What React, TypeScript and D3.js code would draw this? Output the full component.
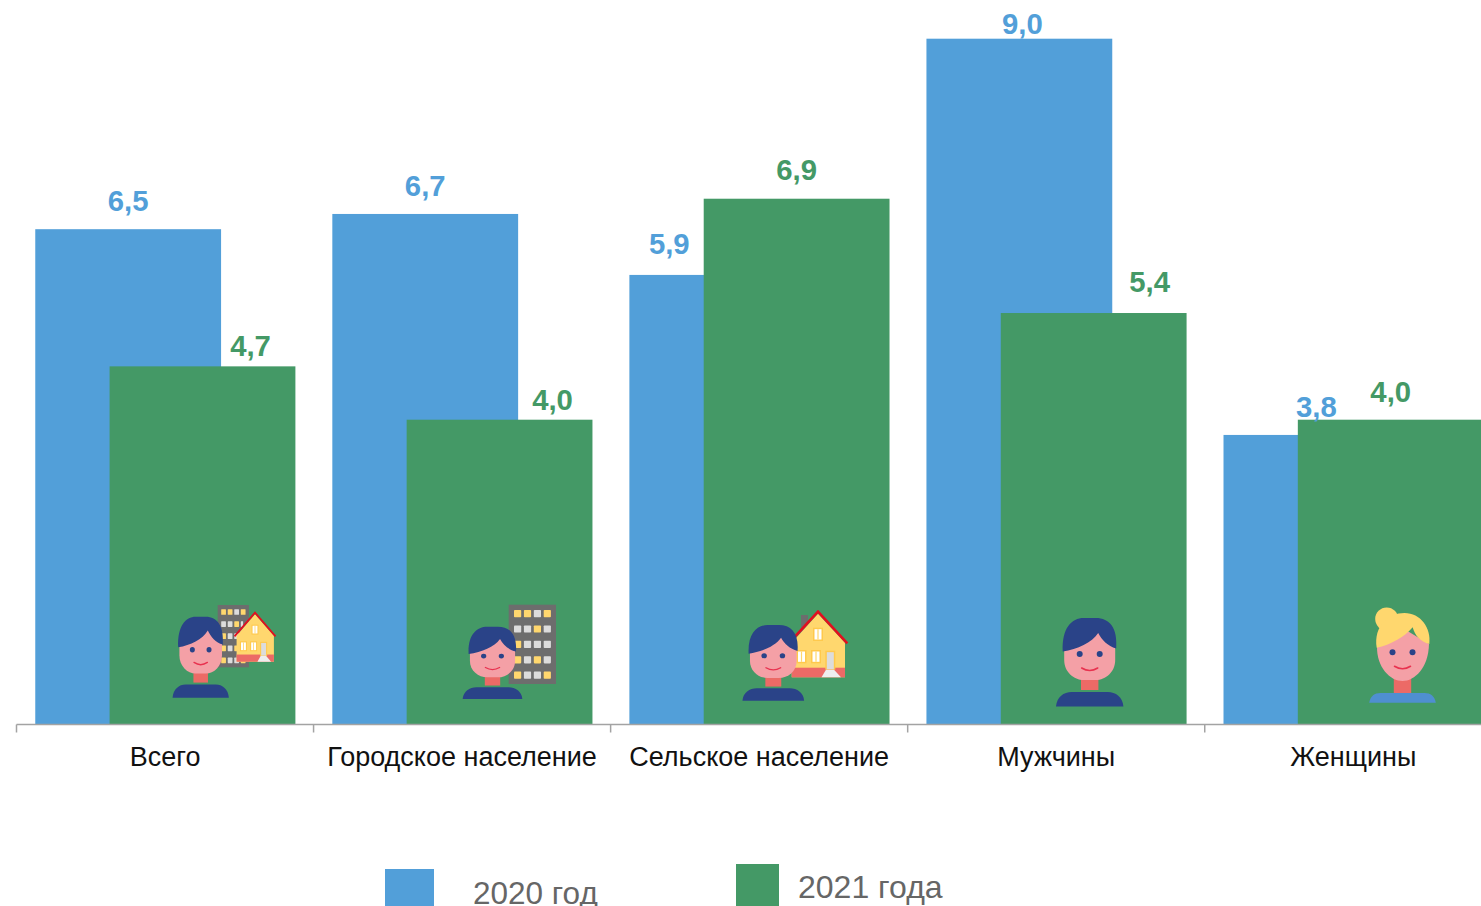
import React, { useEffect, useRef } from "react";
import * as d3 from "d3";

const categories = ["Всего", "Городское население", "Сельское население", "Мужчины", "Женщины"];
const values2020 = [6.5, 6.7, 5.9, 9.0, 3.8];
const values2021 = [4.7, 4.0, 6.9, 5.4, 4.0];
const seriesNames = ["2020 год", "2021 года"];

// hand placed labels, the original chart moved them off the bar centre
const shift2020 = [[0, 28], [0, 28], [-53, 31], [3, 15], [0, 28]];
const shift2021 = [[48, 20], [53, 20], [0, 29], [56, 31], [0, 28]];

const BLUE = "#529fd9";
const GREEN = "#449966";
const NAVY = "#2a4388";
const SKIN = "#f4a0a6";
const NECK = "#ec6a66";
const YELLOW = "#ffd76e";
const GREY = "#6d6d6d";
const PALE = "#dcdcdc";
const RED = "#e30e1e";

const towerWindows = [
  [YELLOW, YELLOW, PALE, YELLOW],
  [PALE, PALE, YELLOW, PALE],
  [YELLOW, PALE, PALE, PALE],
  [YELLOW, PALE, YELLOW, PALE],
  [YELLOW, PALE, PALE, YELLOW],
];

const Face = ({ cy = 0, lip = "#e8324f" }: { cy?: number; lip?: string }) => (
  <g transform={`translate(0,${cy})`}>
    <circle cx={-10} cy={36} r={3} fill={NAVY} />
    <circle cx={10} cy={36} r={3} fill={NAVY} />
    <path d="M-8,50 Q0,55 8,50" fill="none" stroke={lip} strokeWidth={1.6} strokeLinecap="round" />
  </g>
);

// boy icon, origin is top of the hair on the middle axis
const Boy = ({ x, y, sx, sy }: { x: number; y: number; sx: number; sy: number }) => (
  <g transform={`translate(${x},${y}) scale(${sx},${sy})`}>
    <rect x={-8.7} y={58} width={17.4} height={14} fill={NECK} />
    <path d="M-33.7,88.5 C-33,79 -26,74 -18,74 L18,74 C26,74 33,79 33.7,88.5 Z" fill={NAVY} />
    <path d="M-25.5,24 L-25.5,42 C-25.5,54 -16,62 -6,62 L6,62 C16,62 25.5,54 25.5,42 L25.5,20 L0,10 Z" fill={SKIN} />
    <Face />
    <path d="M-27,33.5 C-28,10 -18,0 -6,0 L6,0 C20,0 28,10 26.5,30.5 C18,28 12,22 8.5,15 C2,25 -12,31 -27,33.5 Z" fill={NAVY} />
  </g>
);

const Girl = ({ x, y }: { x: number; y: number }) => (
  <g transform={`translate(${x},${y})`}>
    <rect x={-8.7} y={70} width={17.4} height={19} fill={NECK} />
    <path d="M-33.3,94.7 C-32,88 -28,85 -22,85 L22,85 C28,85 32,88 33.3,94.7 Z" fill="#4f8fd0" />
    <path d="M-25.5,38 C-26,60 -12,73 0,73 C12,73 26,60 26.5,36 L0,20 Z" fill={SKIN} />
    <Face cy={8.3} />
    <circle cx={-15.8} cy={11} r={11.5} fill={YELLOW} />
    <path d="M-25.8,39.7 C-29,18 -14,5 2,5 C18,5 29,20 26.8,36 C18,34 12,27 10.2,19.3 C2,29 -12,37 -25.8,39.7 Z" fill={YELLOW} />
  </g>
);

const Tower = ({ x, y, sx, sy }: { x: number; y: number; sx: number; sy: number }) => (
  <g transform={`translate(${x},${y}) scale(${sx},${sy})`}>
    <rect width={47.3} height={79.3} fill={GREY} />
    {towerWindows.map((row, i) =>
      row.map((c, j) => <rect key={`${i}-${j}`} x={5.3 + j * 9.9} y={5.3 + i * 15.4} width={7.2} height={7.2} rx={0.8} fill={c} />)
    )}
  </g>
);

// origin is the roof apex
const House = ({ x, y, sx, sy }: { x: number; y: number; sx: number; sy: number }) => (
  <g transform={`translate(${x},${y}) scale(${sx},${sy})`}>
    <rect x={-17} y={3.3} width={7} height={17} fill={GREY} />
    <path d="M-26.3,31 L0,2 L27,31 L27,65.6 L-26.3,65.6 Z" fill={YELLOW} />
    <rect x={-26.3} y={56} width={53.3} height={9.6} fill={NECK} />
    <path d="M-29.3,31.7 L0,0 L29.3,31.7" fill="none" stroke={RED} strokeWidth={2.6} />
    {[[-5, 16], [-21.5, 38.3], [-7, 38.3]].map(([wx, wy], i) => (
      <g key={i}>
        <rect x={wx} y={wy} width={10} height={13.3} fill="#ffc94d" />
        <rect x={wx + 1.5} y={wy + 1.5} width={7} height={10.3} fill="#fff" />
        <rect x={wx + 4.4} y={wy + 1.5} width={1.2} height={10.3} fill={YELLOW} />
      </g>
    ))}
    <rect x={7.3} y={39} width={10} height={19} fill="#ffc94d" />
    <rect x={8.8} y={40.5} width={7} height={17} fill={PALE} />
    <path d="M8,58 L16,58 L23,65.6 L3.5,65.6 Z" fill="#eeeeee" />
  </g>
);

export default function App() {
  const chartRef = useRef<SVGGElement | null>(null);

  useEffect(() => {
    const g = d3.select(chartRef.current);
    g.selectAll("*").remove();

    const width = 1481;
    const baseY = 724.5;

    const x = d3.scaleBand<string>()
      .domain(categories)
      .range([16.5, 1501.8]);
    const y = d3.scaleLinear()
      .domain([0, 9])
      .range([baseY, 38.7]);

    const barW = x.bandwidth() * 0.6255;
    const step = barW * 0.4;
    const inset = (x.bandwidth() - barW - step) / 2 + 0.3;

    const drawSeries = (vals: number[], off: number, color: string, shift: number[][]) => {
      const rows = categories.map((c, i) => ({ c, v: vals[i], i }));
      g.append("g")
        .selectAll("rect")
        .data(rows)
        .enter()
        .append("rect")
        .attr("x", d => x(d.c)! + inset + off)
        .attr("y", d => y(d.v))
        .attr("width", barW)
        .attr("height", d => baseY - y(d.v))
        .attr("fill", color);
      return rows.map(d => ({
        label: d3.format(".1f")(d.v).replace(".", ","),
        lx: x(d.c)! + inset + off + barW / 2 + shift[d.i][0],
        ly: y(d.v) - shift[d.i][1] + 10,
        color,
      }));
    };

    const labels = [
      ...drawSeries(values2020, 0, BLUE, shift2020),
      ...drawSeries(values2021, step, GREEN, shift2021),
    ];

    g.append("g")
      .selectAll("text")
      .data(labels)
      .enter()
      .append("text")
      .attr("x", d => d.lx)
      .attr("y", d => d.ly)
      .attr("text-anchor", "middle")
      .style("font-family", "'Liberation Sans', Arial, sans-serif")
      .style("font-size", "29.3px")
      .style("font-weight", 700)
      .style("fill", d => d.color)
      .text(d => d.label);

    // axis: ticks sit on the band edges
    const axis = g.append("g");
    axis.append("line")
      .attr("x1", 16.5).attr("x2", width)
      .attr("y1", baseY).attr("y2", baseY)
      .attr("stroke", "#a3a3a3").attr("stroke-width", 1.5);
    axis.selectAll(".tick")
      .data(categories)
      .enter()
      .append("line")
      .attr("class", "tick")
      .attr("x1", d => x(d)!).attr("x2", d => x(d)!)
      .attr("y1", baseY).attr("y2", baseY + 8)
      .attr("stroke", "#a3a3a3").attr("stroke-width", 1.5);
    axis.selectAll(".cat")
      .data(categories)
      .enter()
      .append("text")
      .attr("class", "cat")
      .attr("x", d => x(d)! + x.bandwidth() / 2)
      .attr("y", 766)
      .attr("text-anchor", "middle")
      .style("font-family", "'Liberation Sans', Arial, sans-serif")
      .style("font-size", "27px")
      .style("fill", "#111")
      .text(d => d);

    // legend
    const legend = [
      { name: seriesNames[0], color: BLUE, rx: 385, ry: 869, rw: 49, tx: 473, ty: 904, fs: 31.5 },
      { name: seriesNames[1], color: GREEN, rx: 736, ry: 864, rw: 43, tx: 798, ty: 898, fs: 32 },
    ];
    const lg = g.append("g");
    lg.selectAll("rect")
      .data(legend)
      .enter()
      .append("rect")
      .attr("x", d => d.rx)
      .attr("y", d => d.ry)
      .attr("width", d => d.rw)
      .attr("height", d => 906 - d.ry)
      .attr("fill", d => d.color);
    lg.selectAll("text")
      .data(legend)
      .enter()
      .append("text")
      .attr("x", d => d.tx)
      .attr("y", d => d.ty)
      .style("font-family", "'Liberation Sans', Arial, sans-serif")
      .style("font-size", d => `${d.fs}px`)
      .style("fill", "#666")
      .text(d => d.name);
  }, []);

  return (
    <svg
      width={1481}
      height={906}
      style={{ position: "fixed", left: 0, top: 0, background: "#fff", display: "block" }}
    >
      <g ref={chartRef} />
      <Tower x={217.7} y={605} sx={0.66} sy={0.786} />
      <House x={255} y={612.7} sx={0.7} sy={0.747} />
      <Boy x={200.7} y={616.7} sx={0.835} sy={0.915} />
      <Tower x={508.7} y={604.7} sx={1} sy={1} />
      <Boy x={492.5} y={626.7} sx={0.885} sy={0.817} />
      <House x={818} y={611.7} sx={1} sy={1} />
      <Boy x={773.3} y={625} sx={0.915} sy={0.855} />
      <Boy x={1089.7} y={618} sx={1} sy={1} />
      <Girl x={1402.5} y={608} />
    </svg>
  );
}
